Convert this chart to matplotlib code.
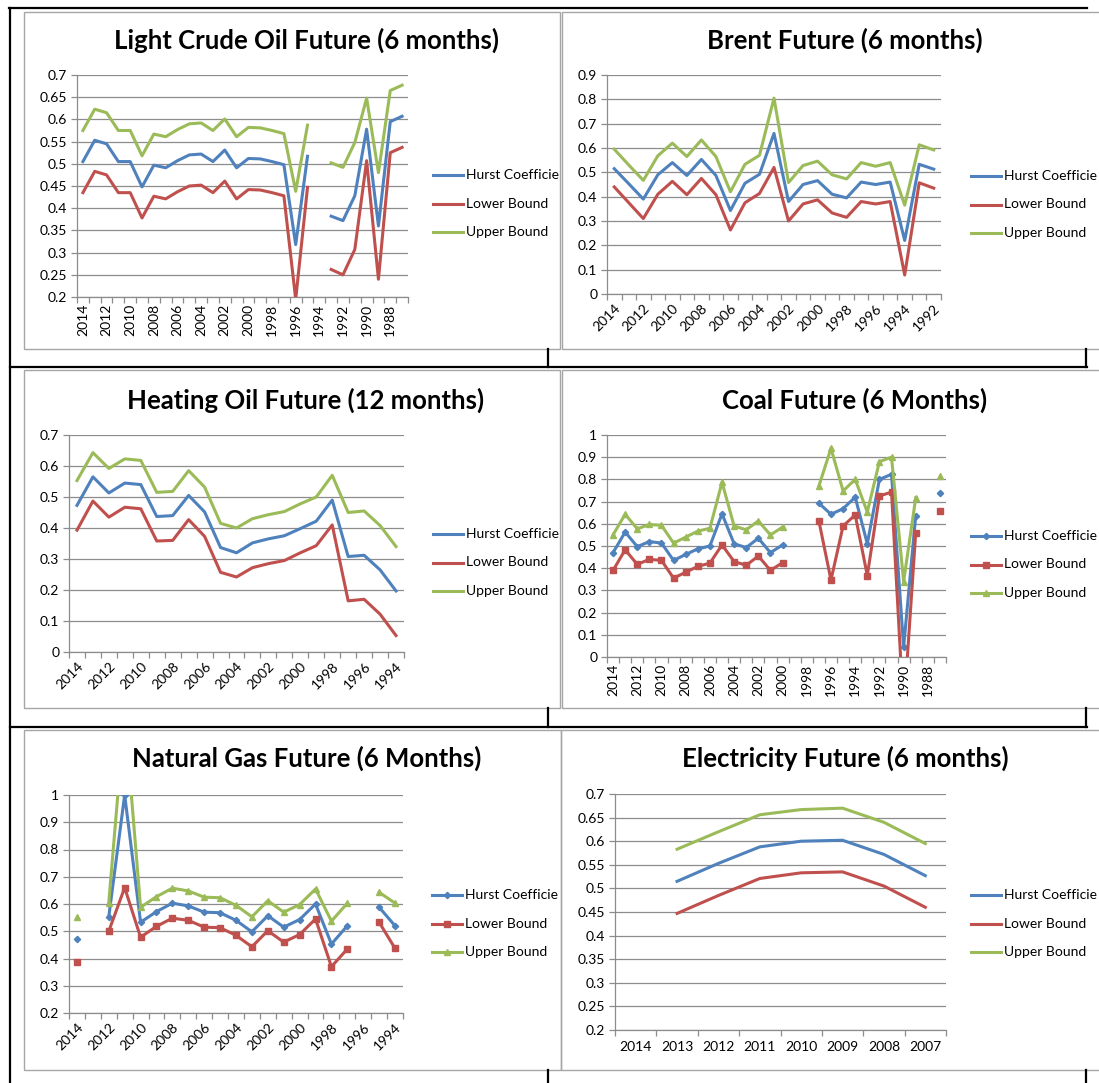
import numpy as np
import matplotlib.pyplot as plt
from matplotlib.lines import Line2D

nan = np.nan

# Light Crude Oil Future (6 months), 2014 -> 1987
years1 = list(range(2014, 1986, -1))
hurst1 = [0.505, 0.553, 0.545, 0.505, 0.505, 0.448, 0.497, 0.491, 0.507, 0.520, 0.522, 0.505, 0.531, 0.491,
          0.512, 0.511, 0.505, 0.498, 0.318, 0.517, nan, 0.382, 0.372, 0.428, 0.578, 0.360, 0.595, 0.607]
lower1 = [0.435, 0.483, 0.475, 0.435, 0.435, 0.378, 0.427, 0.421, 0.437, 0.450, 0.452, 0.435, 0.461, 0.421,
          0.442, 0.441, 0.435, 0.428, 0.195, 0.447, nan, 0.262, 0.250, 0.307, 0.507, 0.240, 0.525, 0.537]
upper1 = [0.575, 0.623, 0.615, 0.575, 0.575, 0.518, 0.567, 0.561, 0.577, 0.590, 0.592, 0.575, 0.601, 0.561,
          0.582, 0.581, 0.575, 0.568, 0.438, 0.587, nan, 0.502, 0.492, 0.548, 0.648, 0.480, 0.665, 0.677]

# Brent Future (6 months), 2014 -> 1992
years2 = list(range(2014, 1991, -1))
hurst2 = [0.515, 0.453, 0.390, 0.490, 0.540, 0.487, 0.553, 0.487, 0.343, 0.455, 0.492, 0.660,
          0.380, 0.450, 0.466, 0.410, 0.395, 0.460, 0.450, 0.460, 0.220, 0.533, 0.513]
lower2 = [0.440, 0.375, 0.310, 0.410, 0.463, 0.408, 0.475, 0.408, 0.263, 0.375, 0.413, 0.520,
          0.300, 0.370, 0.387, 0.333, 0.315, 0.380, 0.370, 0.380, 0.078, 0.457, 0.435]
upper2 = [0.595, 0.530, 0.467, 0.568, 0.620, 0.565, 0.633, 0.565, 0.420, 0.533, 0.570, 0.805,
          0.458, 0.528, 0.546, 0.490, 0.473, 0.540, 0.525, 0.540, 0.365, 0.613, 0.592]

# Heating Oil Future (12 months), 2014 -> 1994
years3 = list(range(2014, 1993, -1))
hurst3 = [0.473, 0.565, 0.513, 0.545, 0.540, 0.437, 0.440, 0.505, 0.452, 0.337, 0.320,
          0.352, 0.365, 0.375, 0.398, 0.422, 0.490, 0.308, 0.312, 0.265, 0.197]
lower3 = [0.393, 0.487, 0.435, 0.467, 0.462, 0.358, 0.360, 0.427, 0.373, 0.257, 0.242,
          0.272, 0.285, 0.295, 0.320, 0.343, 0.410, 0.165, 0.170, 0.122, 0.053]
upper3 = [0.553, 0.643, 0.592, 0.623, 0.618, 0.515, 0.518, 0.585, 0.532, 0.415, 0.400,
          0.430, 0.443, 0.453, 0.478, 0.500, 0.570, 0.450, 0.455, 0.408, 0.340]

# Coal Future (6 Months), 2014 -> 1987
years4 = list(range(2014, 1986, -1))
hurst4 = [0.470, 0.563, 0.497, 0.520, 0.513, 0.435, 0.462, 0.487, 0.500, 0.645, 0.510, 0.493, 0.535, 0.470,
          0.505, nan, nan, 0.693, 0.643, 0.668, 0.720, 0.510, 0.800, 0.823, 0.045, 0.637, nan, 0.737]
lower4 = [0.390, 0.483, 0.417, 0.440, 0.435, 0.355, 0.382, 0.408, 0.423, 0.505, 0.430, 0.413, 0.455, 0.390,
          0.425, nan, nan, 0.613, 0.347, 0.590, 0.640, 0.367, 0.725, 0.743, -0.250, 0.560, nan, 0.657]
upper4 = [0.550, 0.643, 0.577, 0.597, 0.593, 0.513, 0.540, 0.567, 0.580, 0.787, 0.590, 0.573, 0.613, 0.550,
          0.585, nan, nan, 0.770, 0.940, 0.748, 0.800, 0.653, 0.880, 0.900, 0.340, 0.717, nan, 0.817]

# Natural Gas Future (6 Months), 2014 -> 1994
years5 = list(range(2014, 1993, -1))
hurst5 = [0.470, nan, 0.553, 1.000, 0.533, 0.572, 0.603, 0.593, 0.570, 0.568, 0.540,
          0.498, 0.557, 0.515, 0.543, 0.600, 0.453, 0.520, nan, 0.588, 0.520]
lower5 = [0.387, nan, 0.500, 0.660, 0.478, 0.518, 0.548, 0.540, 0.515, 0.513, 0.485,
          0.443, 0.502, 0.460, 0.488, 0.545, 0.370, 0.435, nan, 0.533, 0.437]
upper5 = [0.553, nan, 0.605, 1.300, 0.588, 0.627, 0.658, 0.648, 0.625, 0.623, 0.595,
          0.553, 0.612, 0.570, 0.598, 0.655, 0.537, 0.603, nan, 0.643, 0.603]

# Electricity Future (6 months), 2014 -> 2007
years6 = list(range(2014, 2006, -1))
hurst6 = [nan, 0.515, 0.553, 0.588, 0.600, 0.602, 0.572, 0.527]
lower6 = [nan, 0.447, 0.485, 0.521, 0.533, 0.535, 0.505, 0.460]
upper6 = [nan, 0.583, 0.620, 0.656, 0.667, 0.670, 0.640, 0.595]

# legend names as they show in the cells (the first one is cut by the cell)
names = ["Hurst Coefficie", "Lower Bound", "Upper Bound"]
colors = ["#4F81BD", "#C0504D", "#9BBB59"]
markers = ["D", "s", "^"]
msizes = [3.2, 4.2, 4.8]
grid_c = "#8C8C8C"

W, H = 1099, 1083
plt.rcParams["font.family"] = ["Lato", "DejaVu Sans"]
fig = plt.figure(figsize=(W / 100, H / 100), dpi=100)


def fx(x):
    return x / W


def fy(y):
    return 1 - y / H


def frame(x0, y0, x1, y1):
    fig.add_artist(plt.Rectangle((fx(x0), fy(y1)), fx(x1 - x0), (y1 - y0) / H,
                                 transform=fig.transFigure, fill=False,
                                 edgecolor="#A6A6A6", lw=1.0))


def panel(box, plot, years, series, ylim, ystep, title, tx, ty, rot, every, legend_xy, use_markers=False):
    x0, y0, x1, y1 = plot
    frame(*box)
    ax = fig.add_axes([fx(x0), fy(y1), fx(x1 - x0), (y1 - y0) / H])
    n = len(years)
    xs = np.arange(n)
    for k, vals in enumerate(series):
        if use_markers:
            ax.plot(xs, vals, color=colors[k], lw=2.2, marker=markers[k],
                    ms=msizes[k], zorder=3)
        else:
            ax.plot(xs, vals, color=colors[k], lw=2.2, zorder=3)
    ax.set_xlim(-0.5, n - 0.5)
    ax.set_ylim(*ylim)
    yt = np.arange(ylim[0], ylim[1] + ystep / 2, ystep)
    ax.set_yticks(yt)
    ax.set_yticklabels([f"{round(v, 2):g}" for v in yt], fontsize=10)
    ax.yaxis.grid(True, color=grid_c, lw=0.9)
    ax.set_axisbelow(True)
    for s in ["top", "right"]:
        ax.spines[s].set_visible(False)
    for s in ["left", "bottom"]:
        ax.spines[s].set_color(grid_c)
        ax.spines[s].set_linewidth(0.9)
    ax.tick_params(axis="y", length=4, color=grid_c, width=0.9, pad=3)
    # category axis: tick marks on boundaries, labels on centres
    ax.set_xticks(np.arange(n + 1) - 0.5, minor=True)
    ax.tick_params(axis="x", which="minor", length=4, color=grid_c, width=0.9)
    lab_pos = xs[::every]
    ax.set_xticks(lab_pos)
    if rot == 45:
        ax.set_xticklabels([str(years[i]) for i in lab_pos], rotation=45,
                           ha="right", va="top", rotation_mode="anchor", fontsize=10)
        ax.tick_params(axis="x", which="major", length=0, pad=6)
    elif rot == 90:
        ax.set_xticklabels([str(years[i]) for i in lab_pos], rotation=90,
                           fontsize=10)
        ax.tick_params(axis="x", which="major", length=0, pad=5)
    else:
        ax.set_xticklabels([str(years[i]) for i in lab_pos], fontsize=10)
        ax.tick_params(axis="x", which="major", length=0, pad=8)

    fig.text(fx(tx), fy(ty), title, ha="center", va="center",
             fontsize=18.5, fontweight="bold")

    lx, ly = legend_xy
    for k, name in enumerate(names):
        yy = ly + k * 28.5
        fig.add_artist(Line2D([fx(lx), fx(lx + 30)], [fy(yy), fy(yy)],
                              transform=fig.transFigure, color=colors[k], lw=2.2))
        if use_markers:
            fig.add_artist(Line2D([fx(lx + 15)], [fy(yy)], transform=fig.transFigure,
                                  color=colors[k], marker=markers[k], ms=msizes[k], lw=0))
        fig.text(fx(lx + 33), fy(yy), name, ha="left", va="center", fontsize=10)
    return ax


panel((24, 12, 560, 349), (77, 75, 408, 297), years1, [hurst1, lower1, upper1], (0.2, 0.7), 0.05,
      "Light Crude Oil Future (6 months)", 306, 40, 90, 2, (433, 175))
panel((562, 12, 1105, 349), (607, 75, 941, 294), years2, [hurst2, lower2, upper2], (0, 0.9), 0.1,
      "Brent Future (6 months)", 845, 40, 45, 2, (971, 176))
panel((24, 370, 560, 708), (69, 435, 404, 652), years3, [hurst3, lower3, upper3], (0, 0.7), 0.1,
      "Heating Oil Future (12 months)", 306, 400, 45, 2, (433, 534))
panel((562, 370, 1105, 708), (607, 435, 946, 657), years4, [hurst4, lower4, upper4], (0, 1.0), 0.1,
      "Coal Future (6 Months)", 855, 400, 90, 2, (971, 536), use_markers=True)
panel((24, 730, 561, 1070), (69, 795, 403, 1013), years5, [hurst5, lower5, upper5], (0.2, 1.0), 0.1,
      "Natural Gas Future (6 Months)", 307, 758, 45, 2, (432, 895), use_markers=True)
panel((561, 730, 1105, 1070), (615, 794, 946, 1030), years6, [hurst6, lower6, upper6], (0.2, 0.7), 0.05,
      "Electricity Future (6 months)", 845, 758, 0, 1, (971, 895))

# table rules around the charts
for (xa, ya, xb, yb) in [(9, 8, 1087, 8), (10, 8, 10, 1083),
                         (10, 367, 1087, 367), (10, 727, 1087, 727),
                         (548, 349, 548, 367), (1086, 349, 1086, 367),
                         (548, 708, 548, 727), (1086, 708, 1086, 727),
                         (548, 1070, 548, 1083), (1086, 1070, 1086, 1083)]:
    fig.add_artist(Line2D([fx(xa), fx(xb)], [fy(ya), fy(yb)], transform=fig.transFigure,
                          color="black", lw=1.6))

fig.savefig("out.png", dpi=100)
